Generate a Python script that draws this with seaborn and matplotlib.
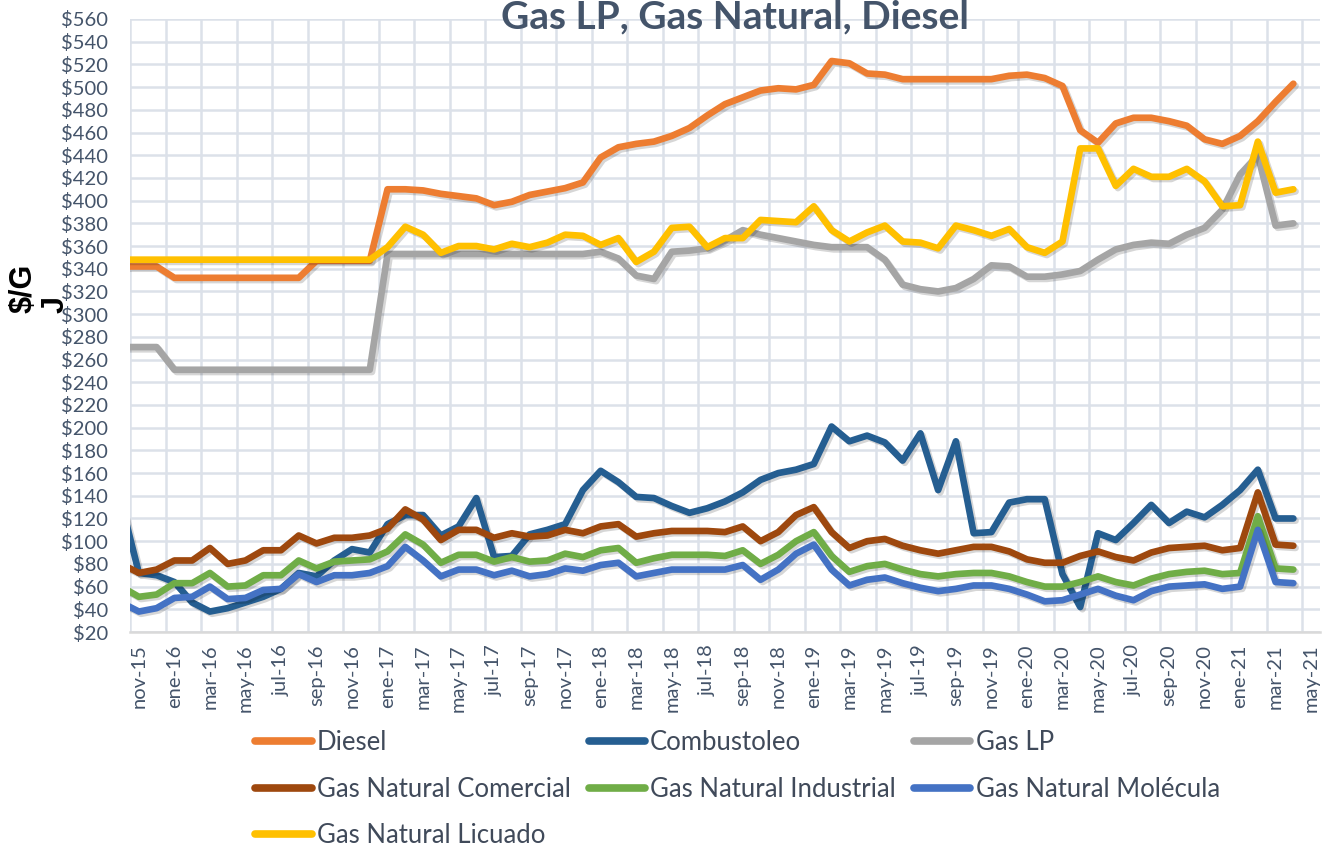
"""
Precios de combustibles (Gas LP, Gas Natural, Diesel) en $/GJ, mensual nov-15 a abr-21.
Gráfica de líneas con seaborn, leyenda en 3 columnas bajo el eje.
"""

import matplotlib
matplotlib.use("Agg")
import matplotlib.pyplot as plt
import matplotlib.patheffects as pe
from matplotlib.lines import Line2D
from matplotlib.ticker import FixedLocator
import pandas as pd
import seaborn as sns

# ─────────────────────────────────────────────────────────────
# DATOS  (posición -1 = oct-15, queda recortada en el borde izquierdo;
#         0 = nov-15 ... 65 = abr-21)
# ─────────────────────────────────────────────────────────────

POSICIONES = list(range(-1, 66))

DIESEL = [342, 342, 342, 332, 332, 332, 332, 332, 332, 332, 332, 347, 347, 347, 347,
          410, 410, 409, 406, 404, 402, 396, 399, 405, 408, 411, 416, 438, 447, 450,
          452, 457, 464, 475, 485, 491, 497, 499, 498, 502, 523, 521, 512, 511, 507,
          507, 507, 507, 507, 507, 510, 511, 508, 501, 462, 451, 468, 473, 473, 470,
          466, 454, 450, 457, 470, 487, 503]

COMBUSTOLEO = [134, 72, 70, 64, 46, 38, 41, 46, 51, 58, 72, 69, 83, 93, 90,
               115, 123, 123, 105, 113, 138, 86, 87, 106, 110, 115, 145, 162, 152, 139,
               138, 131, 125, 129, 135, 143, 154, 160, 163, 168, 201, 188, 193, 187, 171,
               195, 145, 188, 107, 108, 134, 137, 137, 71, 42, 107, 101, 116, 132, 116,
               126, 121, 132, 145, 163, 120, 120]

GAS_LP = [271, 271, 271, 251, 251, 251, 251, 251, 251, 251, 251, 251, 251, 251, 251,
          353, 353, 353, 353, 353, 353, 353, 353, 353, 353, 353, 353, 355, 349, 334,
          331, 355, 356, 358, 365, 374, 370, 367, 364, 361, 359, 359, 359, 348, 326,
          322, 320, 323, 331, 343, 342, 333, 333, 335, 338, 348, 357, 361, 363, 362,
          370, 376, 392, 423, 440, 378, 380]

GN_COMERCIAL = [80, 72, 75, 83, 83, 94, 80, 83, 92, 92, 105, 98, 103, 103, 105,
                111, 128, 119, 101, 110, 110, 103, 107, 104, 105, 110, 107, 113, 115, 104,
                107, 109, 109, 109, 108, 113, 100, 108, 123, 130, 108, 94, 100, 102, 96,
                92, 89, 92, 95, 95, 91, 84, 81, 81, 87, 91, 86, 83, 90, 94,
                95, 96, 92, 94, 143, 97, 96]

GN_INDUSTRIAL = [60, 51, 53, 63, 63, 72, 60, 61, 70, 70, 83, 76, 82, 83, 84,
                 91, 106, 97, 81, 88, 88, 82, 86, 82, 83, 89, 86, 92, 94, 81,
                 85, 88, 88, 88, 87, 92, 80, 88, 100, 108, 87, 73, 78, 80, 75,
                 71, 69, 71, 72, 72, 69, 64, 60, 60, 64, 69, 64, 61, 67, 71,
                 73, 74, 71, 72, 122, 76, 75]

GN_MOLECULA = [46, 38, 41, 50, 51, 60, 49, 50, 57, 58, 71, 64, 70, 70, 72,
               78, 95, 83, 69, 75, 75, 70, 74, 69, 71, 76, 74, 79, 81, 69,
               72, 75, 75, 75, 75, 79, 66, 75, 89, 97, 75, 61, 66, 68, 63,
               59, 56, 58, 61, 61, 58, 53, 47, 48, 53, 58, 52, 48, 56, 60,
               61, 62, 58, 60, 110, 64, 63]

GN_LICUADO = [348, 348, 348, 348, 348, 348, 348, 348, 348, 348, 348, 348, 348, 348, 348,
              359, 377, 370, 354, 360, 360, 357, 362, 359, 363, 370, 369, 361, 367, 346,
              355, 376, 377, 359, 367, 367, 383, 382, 381, 395, 374, 364, 372, 378, 364,
              363, 358, 378, 374, 369, 375, 359, 354, 364, 446, 446, 413, 428, 421, 421,
              428, 417, 395, 396, 452, 407, 410]

SERIES = ["Diesel", "Combustoleo", "Gas LP", "Gas Natural Comercial",
          "Gas Natural Industrial", "Gas Natural Molécula", "Gas Natural Licuado"]
COLORES = ["#ED7D31", "#255E91", "#A5A5A5", "#9E480E", "#70AD47", "#4472C4", "#FFC000"]

ETIQUETAS_X = ["nov-15", "ene-16", "mar-16", "may-16", "jul-16", "sep-16",
               "nov-16", "ene-17", "mar-17", "may-17", "jul-17", "sep-17",
               "nov-17", "ene-18", "mar-18", "may-18", "jul-18", "sep-18",
               "nov-18", "ene-19", "mar-19", "may-19", "jul-19", "sep-19",
               "nov-19", "ene-20", "mar-20", "may-20", "jul-20", "sep-20",
               "nov-20", "ene-21", "mar-21", "may-21"]

Y_TICKS = list(range(20, 561, 20))

TEXTO = "#44546A"
REJILLA = "#DCE1E9"

# ─────────────────────────────────────────────────────────────
# TABLA LARGA PARA SEABORN
# ─────────────────────────────────────────────────────────────

ancho = pd.DataFrame({
    "pos": POSICIONES,
    "Diesel": DIESEL,
    "Combustoleo": COMBUSTOLEO,
    "Gas LP": GAS_LP,
    "Gas Natural Comercial": GN_COMERCIAL,
    "Gas Natural Industrial": GN_INDUSTRIAL,
    "Gas Natural Molécula": GN_MOLECULA,
    "Gas Natural Licuado": GN_LICUADO,
})
df = ancho.melt(id_vars="pos", var_name="serie", value_name="valor")

# ─────────────────────────────────────────────────────────────
# GRÁFICA
# ─────────────────────────────────────────────────────────────

sns.set_theme(style="white")
plt.rcParams["font.family"] = ["Lato", "DejaVu Sans"]

fig = plt.figure(figsize=(13.29, 8.48), dpi=100)
ax = fig.add_axes([130 / 1329, 1 - 632 / 848, 1190 / 1329, 613 / 848])

sns.lineplot(data=df, x="pos", y="valor", hue="serie", hue_order=SERIES,
             palette=COLORES, linewidth=4.8, legend=False, errorbar=None, ax=ax)

sombra = [pe.SimpleLineShadow(offset=(1.6, -1.6), shadow_color="black", alpha=0.16),
          pe.Normal()]
for linea in ax.get_lines():
    linea.set_solid_capstyle("round")
    linea.set_solid_joinstyle("round")
    linea.set_path_effects(sombra)

# ejes
ax.set_xlim(-0.5, 66.5)
ax.set_ylim(20, 560)
ax.set_yticks(Y_TICKS)
ax.set_yticklabels([f"${v}" for v in Y_TICKS])
ax.set_xticks(range(0, 67, 2))
ax.set_xticklabels(ETIQUETAS_X, rotation=90)
ax.xaxis.set_minor_locator(FixedLocator([p - 0.5 for p in range(0, 67, 2)]))
ax.set_xlabel("")
ax.set_ylabel("")

ax.grid(False)
ax.grid(which="major", axis="y", color=REJILLA, linewidth=1.8)
ax.grid(which="minor", axis="x", color=REJILLA, linewidth=1.8)
ax.set_axisbelow(True)

for lado in ["top", "right", "left"]:
    ax.spines[lado].set_visible(False)
ax.spines["bottom"].set_color("#D9D9D9")
ax.spines["bottom"].set_linewidth(1.8)

ax.tick_params(axis="y", which="both", length=0, pad=16, labelsize=14.5, labelcolor=TEXTO)
ax.tick_params(axis="x", which="both", length=0, pad=9, labelsize=14.5, labelcolor=TEXTO)

# título y etiqueta del eje y
fig.text(735 / 1329, 1 - 17 / 848, "Gas LP, Gas Natural, Diesel", ha="center",
         va="center", fontsize=28, fontweight="bold", color=TEXTO)
fig.text(9 / 1329, 1 - 313 / 848, "$/G\nJ", rotation=90, ha="left", va="bottom",
         multialignment="left", fontsize=22, fontweight="bold", color="black",
         family=["Liberation Sans", "DejaVu Sans"], linespacing=1.05)

# leyenda (3 columnas, orden por filas como en el original)
orden = [0, 3, 6, 1, 4, 2, 5]
manejadores = [Line2D([], [], color=COLORES[i], linewidth=5.5, solid_capstyle="round")
               for i in orden]
etiquetas = [SERIES[i] for i in orden]
fig.legend(manejadores, etiquetas, loc="upper left",
           bbox_to_anchor=(255 / 1329, 1 - 730 / 848), ncol=3, frameon=False,
           fontsize=18.5, labelcolor="#404A5A", handlelength=2.2, handletextpad=0.2,
           columnspacing=0.7, labelspacing=0.84, borderpad=0, borderaxespad=0)

fig.savefig("out.png", dpi=100)
plt.close(fig)
